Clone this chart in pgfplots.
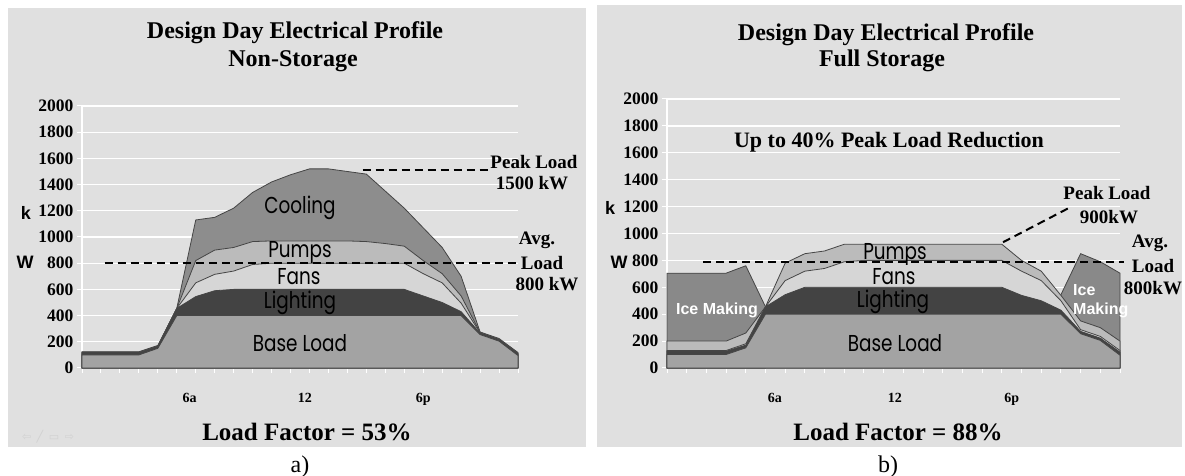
\documentclass[border=0pt]{standalone}
\usepackage{fontspec}
\setmainfont{Liberation Serif}
\newfontfamily\gothic{Poppins}
\newfontfamily\arialf{Liberation Sans}
\newfontfamily\dejavu{DejaVu Sans}
\usepackage{graphicx}
\usepackage{pgfplots}
\pgfplotsset{compat=1.18}
\newcommand{\fs}[1]{\fontsize{#1}{#1}\selectfont}
\newcommand{\gl}[1]{\scalebox{0.8}[1]{#1}}
\definecolor{bgc}{HTML}{E0E0E0}
\definecolor{basec}{HTML}{A3A3A3}
\definecolor{lightc}{HTML}{434343}
\definecolor{fansc}{HTML}{D6D6D6}
\definecolor{pumpc}{HTML}{BBBBBB}
\definecolor{coolc}{HTML}{8D8D8D}
\definecolor{icec}{HTML}{898989}
\definecolor{edgec}{HTML}{454545}
\tikzset{dsh/.style={dash pattern=on 8bp off 5bp, line width=2bp}}
\pgfplotsset{
  myaxis/.style={
    scale only axis, xmin=0, xmax=23, ymin=0, ymax=2000,
    axis x line*=bottom, axis y line*=left,
    axis line style={white, line width=1.3bp},
    ytick={0,200,...,2000},
    ymajorgrids, major grid style={white, line width=1.3bp},
    xtick={0,...,23}, xticklabels={},
    tick style={white, line width=1bp}, major tick length=5bp, tick align=outside,
    /pgf/number format/1000 sep={},
    /pgf/number format/assume math mode=true,
    yticklabel style={font=\bfseries\fs{17.5bp}},
    scaled ticks=false,
    clip=false,
    extra x tick style={major tick length=0pt, grid=none,
      xticklabel style={font=\bfseries\fs{14bp}, anchor=base, yshift=-35bp}},
  },
  ar/.style={fill=#1, draw=edgec, line width=0.8bp},
}
\begin{document}
\begin{tikzpicture}
\useasboundingbox (0bp,0bp) rectangle (1185bp,476bp);
\fill[bgc] (8bp,29bp) rectangle (586bp,468bp);
\fill[bgc] (597bp,29bp) rectangle (1182bp,471bp);

% ---------------- Panel a ----------------
\begin{axis}[myaxis, at={(82bp,108bp)}, anchor=south west, width=436bp, height=262bp,
  extra x ticks={5.68,11.76,18}, extra x tick labels={6a,12,6p}]
\addplot[ar=coolc] coordinates {(0,124)(1,124)(2,124)(3,124)(4,172)(5,455)(6,1130)(7,1150)(8,1220)(9,1340)(10,1420)(11,1475)(12,1520)(13,1520)(14,1500)(15,1480)(16,1350)(17,1220)(18,1070)(19,920)(20,700)(21,275)(22,225)(23,118)} \closedcycle;
\addplot[ar=pumpc] coordinates {(0,121)(1,121)(2,121)(3,121)(4,168)(5,455)(6,820)(7,900)(8,920)(9,965)(10,970)(11,970)(12,970)(13,970)(14,970)(15,965)(16,950)(17,930)(18,820)(19,720)(20,550)(21,271)(22,221)(23,112)} \closedcycle;
\addplot[ar=fansc] coordinates {(0,118)(1,118)(2,118)(3,118)(4,166)(5,455)(6,650)(7,715)(8,740)(9,790)(10,800)(11,800)(12,800)(13,800)(14,800)(15,800)(16,800)(17,800)(18,720)(19,650)(20,495)(21,268)(22,218)(23,108)} \closedcycle;
\addplot[ar=lightc] coordinates {(0,115)(1,115)(2,115)(3,115)(4,163)(5,455)(6,545)(7,590)(8,600)(9,600)(10,600)(11,600)(12,600)(13,600)(14,600)(15,600)(16,600)(17,600)(18,550)(19,500)(20,430)(21,265)(22,215)(23,105)} \closedcycle;
\addplot[ar=basec] coordinates {(0,100)(1,100)(2,100)(3,100)(4,150)(5,400)(6,400)(7,400)(8,400)(9,400)(10,400)(11,400)(12,400)(13,400)(14,400)(15,400)(16,400)(17,400)(18,400)(19,400)(20,400)(21,255)(22,205)(23,95)} \closedcycle;
\draw[dsh] (axis cs:1.2,800) -- (axis cs:23,800);
\draw[dsh] (axis cs:14.8,1511) -- (axis cs:21.4,1511);
\end{axis}

% ---------------- Panel b ----------------
\begin{axis}[myaxis, at={(667bp,108bp)}, anchor=south west, width=453bp, height=269bp,
  extra x ticks={5.48,11.57,17.5}, extra x tick labels={6a,12,6p}]
\addplot[ar=icec] coordinates {(0,705)(1,705)(2,705)(3,705)(4,760)(5,455)} \closedcycle;
\addplot[ar=icec] coordinates {(20,545)(21,850)(22,790)(23,705)} \closedcycle;
\addplot[ar=pumpc] coordinates {(0,200)(1,200)(2,200)(3,200)(4,260)(5,455)(6,780)(7,850)(8,870)(9,920)(10,920)(11,920)(12,920)(13,920)(14,920)(15,920)(16,920)(17,920)(18,800)(19,720)(20,540)(21,350)(22,300)(23,200)} \closedcycle;
\addplot[ar=fansc] coordinates {(0,130)(1,130)(2,130)(3,130)(4,180)(5,455)(6,650)(7,720)(8,740)(9,790)(10,800)(11,800)(12,800)(13,800)(14,800)(15,800)(16,800)(17,800)(18,720)(19,650)(20,500)(21,285)(22,235)(23,130)} \closedcycle;
\addplot[ar=lightc] coordinates {(0,125)(1,125)(2,125)(3,125)(4,170)(5,455)(6,545)(7,600)(8,600)(9,600)(10,600)(11,600)(12,600)(13,600)(14,600)(15,600)(16,600)(17,600)(18,540)(19,500)(20,430)(21,272)(22,222)(23,118)} \closedcycle;
\addplot[ar=basec] coordinates {(0,100)(1,100)(2,100)(3,100)(4,150)(5,400)(6,400)(7,400)(8,400)(9,400)(10,400)(11,400)(12,400)(13,400)(14,400)(15,400)(16,400)(17,400)(18,400)(19,400)(20,400)(21,255)(22,205)(23,95)} \closedcycle;
\draw[dsh] (axis cs:1.83,785) -- (axis cs:23.2,785);
\draw[dsh] (axis cs:17.06,935) -- (axis cs:20.54,1200);
\end{axis}

% ---------------- Text: panel a ----------------
\node[font=\bfseries\fs{24bp}] at (295bp,443bp) {Design Day Electrical Profile};
\node[font=\bfseries\fs{24bp}] at (293bp,415bp) {Non-Storage};
\node[font=\bfseries\fs{25bp}] at (307bp,44bp) {Load Factor = 53\%};
\node[font=\fs{24bp}] at (300bp,9bp) {a)};
\node[font=\dejavu\fs{11bp}, text=black!18] at (48bp,39bp) {⇦\enspace╱\enspace▭\enspace⇨};
\node[font=\arialf\bfseries\fs{18bp}] at (26bp,263bp) {k};
\node[font=\arialf\bfseries\fs{18bp}] at (25bp,214bp) {W};
\node[font=\bfseries\fs{19bp}] at (534bp,314bp) {Peak Load};
\node[font=\bfseries\fs{19bp}] at (532bp,293bp) {1500 kW};
\node[font=\bfseries\fs{19bp}] at (537bp,236bp) {Avg.};
\node[font=\bfseries\fs{19bp}] at (542bp,213bp) {Load};
\node[font=\bfseries\fs{19bp}] at (547bp,192bp) {800 kW};
\node[font=\gothic\fs{23bp}] at (300bp,268bp) {\gl{Cooling}};
\node[font=\gothic\fs{23bp}] at (300bp,224bp) {\gl{Pumps}};
\node[font=\gothic\fs{23bp}] at (299bp,199bp) {\gl{Fans}};
\node[font=\gothic\fs{23bp}] at (300bp,173bp) {\gl{Lighting}};
\node[font=\gothic\fs{23bp}] at (300bp,133bp) {\gl{Base Load}};

% ---------------- Text: panel b ----------------
\node[font=\bfseries\fs{24bp}] at (886bp,441bp) {Design Day Electrical Profile};
\node[font=\bfseries\fs{24bp}] at (882bp,415bp) {Full Storage};
\node[font=\bfseries\fs{22bp}] at (889bp,334bp) {Up to 40\% Peak Load Reduction};
\node[font=\bfseries\fs{25bp}] at (898bp,44bp) {Load Factor = 88\%};
\node[font=\fs{24bp}] at (888bp,9bp) {b)};
\node[font=\arialf\bfseries\fs{18bp}] at (610bp,268bp) {k};
\node[font=\arialf\bfseries\fs{18bp}] at (619bp,214bp) {W};
\node[font=\bfseries\fs{19bp}] at (1107bp,283bp) {Peak Load};
\node[font=\bfseries\fs{19bp}] at (1109bp,259bp) {900kW};
\node[font=\bfseries\fs{19bp}] at (1150bp,233bp) {Avg.};
\node[font=\bfseries\fs{19bp}] at (1153bp,210bp) {Load};
\node[font=\bfseries\fs{19bp}] at (1153bp,188bp) {800kW};
\node[font=\gothic\fs{23bp}] at (895bp,222bp) {\gl{Pumps}};
\node[font=\gothic\fs{23bp}] at (894bp,199bp) {\gl{Fans}};
\node[font=\gothic\fs{23bp}] at (893bp,174bp) {\gl{Lighting}};
\node[font=\gothic\fs{23bp}] at (895bp,133bp) {\gl{Base Load}};
\node[font=\arialf\bfseries\fs{16bp}, text=white] at (717bp,166bp) {Ice Making};
\node[font=\arialf\bfseries\fs{16bp}, text=white, anchor=west, inner sep=0pt] at (1073bp,186bp) {Ice};
\node[font=\arialf\bfseries\fs{16bp}, text=white, anchor=west, inner sep=0pt] at (1073bp,166bp) {Making};
\end{tikzpicture}
\end{document}
